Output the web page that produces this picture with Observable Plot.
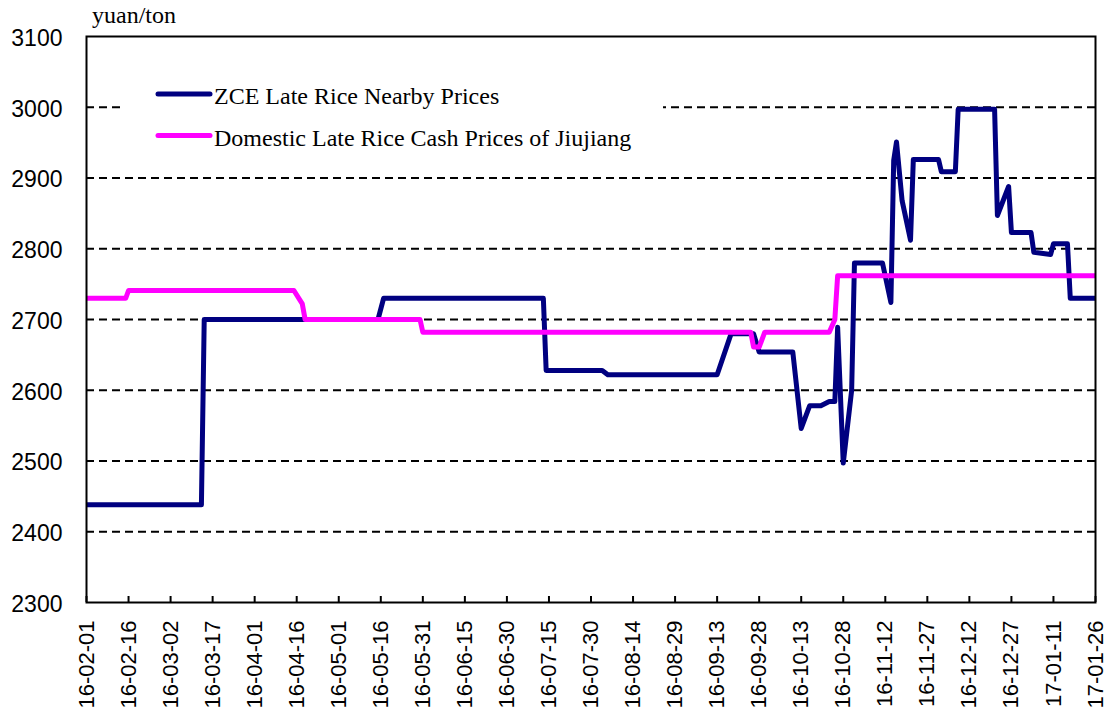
<!DOCTYPE html>
<html><head><meta charset="utf-8">
<script src="https://cdn.jsdelivr.net/npm/d3@7"></script>
<script src="https://cdn.jsdelivr.net/npm/@observablehq/plot@0.6"></script>
<style>
body{margin:0;background:#fff}
#wrap{position:relative;width:1115px;height:718px}
#overlay{position:absolute;left:0;top:0;pointer-events:none}
</style></head>
<body><div id="wrap"></div>
<script>
// ZCE Late Rice Nearby Prices (yuan/ton)
const zceDates = ["2016-02-01","2016-03-13","2016-03-14","2016-05-15","2016-05-17","2016-07-13","2016-07-14","2016-08-03","2016-08-05","2016-09-13","2016-09-18","2016-09-26","2016-09-28","2016-10-10","2016-10-13","2016-10-16","2016-10-20","2016-10-23","2016-10-25","2016-10-26","2016-10-28","2016-10-31","2016-11-01","2016-11-11","2016-11-14","2016-11-15","2016-11-16","2016-11-18","2016-11-21","2016-11-22","2016-12-01","2016-12-02","2016-12-07","2016-12-08","2016-12-21","2016-12-22","2016-12-26","2016-12-27","2017-01-03","2017-01-04","2017-01-10","2017-01-11","2017-01-16","2017-01-17","2017-01-26"];
const zceValues = [2438,2438,2700,2700,2730,2730,2628,2628,2622,2622,2680,2680,2654,2654,2546,2578,2578,2584,2584,2689,2497,2600,2780,2780,2724,2925,2951,2868,2812,2926,2926,2909,2909,2997,2997,2847,2888,2823,2823,2795,2792,2807,2807,2730,2730];
// Domestic Late Rice Cash Prices of Jiujiang (yuan/ton)
const cashDates = ["2016-02-01","2016-02-15","2016-02-16","2016-04-15","2016-04-18","2016-04-19","2016-05-30","2016-05-31","2016-09-25","2016-09-26","2016-09-28","2016-09-30","2016-10-23","2016-10-25","2016-10-26","2017-01-26"];
const cashValues = [2730,2730,2741,2741,2722,2700,2700,2682,2682,2661,2661,2682,2682,2700,2762,2762];
const seriesNames = ["ZCE Late Rice Nearby Prices","Domestic Late Rice Cash Prices of Jiujiang"];
const seriesColors = ["#000080","#ff00ff"];
const xTickDates = ["2016-02-01","2016-02-16","2016-03-02","2016-03-17","2016-04-01","2016-04-16","2016-05-01","2016-05-16","2016-05-31","2016-06-15","2016-06-30","2016-07-15","2016-07-30","2016-08-14","2016-08-29","2016-09-13","2016-09-28","2016-10-13","2016-10-28","2016-11-12","2016-11-27","2016-12-12","2016-12-27","2017-01-11","2017-01-26"];
const yTicks = [2300,2400,2500,2600,2700,2800,2900,3000,3100];
const gridValues = [2400,2500,2600,2700,2800,2900,3000];
const unitLabel = "yuan/ton";

const zce = zceDates.map((d,i)=>({date:new Date(d),value:zceValues[i]}));
const cash = cashDates.map((d,i)=>({date:new Date(d),value:cashValues[i]}));
const xTicks = xTickDates.map(d=>new Date(d));

const chart = Plot.plot({
  width:1115, height:718,
  marginLeft:86, marginRight:20, marginTop:36, marginBottom:116,
  style:{fontFamily:"'Liberation Sans', Arial, sans-serif", background:"#fff", color:"#000"},
  x:{type:"utc", domain:[xTicks[0], xTicks[xTicks.length-1]], label:null},
  y:{domain:[2300,3100], label:null},
  marks:[
    Plot.ruleY(gridValues,{stroke:"#000",strokeWidth:2,strokeDasharray:"8,5"}),
    Plot.line(zce,{x:"date",y:"value",stroke:seriesColors[0],strokeWidth:5,strokeLinejoin:"round",clip:true}),
    Plot.line(cash,{x:"date",y:"value",stroke:seriesColors[1],strokeWidth:5,strokeLinejoin:"round",clip:true}),
    Plot.frame({stroke:"#000",strokeWidth:2}),
    Plot.ruleX(xTicks,{y1:2300,y2:2300,insetTop:-6,stroke:"#000",strokeWidth:2}),
    Plot.axisX(xTicks,{tickSize:0,tickPadding:18,tickRotate:-90,tickFormat:d3.utcFormat("%y-%m-%d"),fontSize:22,label:null}),
    Plot.axisY(yTicks,{tickSize:0,tickPadding:24,fontSize:23,dy:2,tickFormat:d=>String(d),label:null})
  ]
});
const wrap = document.getElementById("wrap");
wrap.appendChild(chart);

// legend + unit overlay
const ns="http://www.w3.org/2000/svg";
const ov=document.createElementNS(ns,"svg");
ov.setAttribute("id","overlay");ov.setAttribute("width",1115);ov.setAttribute("height",718);
const mk=(tag,attrs,text)=>{const e=document.createElementNS(ns,tag);for(const k in attrs)e.setAttribute(k,attrs[k]);if(text!=null)e.textContent=text;ov.appendChild(e);return e;};
mk("rect",{x:121,y:66,width:542,height:92,fill:"#fff"});
mk("text",{x:92,y:23,"font-family":"'Liberation Serif','Times New Roman',serif","font-size":24,fill:"#000"},unitLabel);
const legY=[94,135.5];
seriesNames.forEach((n,i)=>{
  mk("line",{x1:158,x2:210,y1:legY[i],y2:legY[i],stroke:seriesColors[i],"stroke-width":5,"stroke-linecap":"round"});
  mk("text",{x:214,y:legY[i]+10.2,"font-family":"'Liberation Serif','Times New Roman',serif","font-size":24,fill:"#000"},n);
});
wrap.appendChild(ov);
</script></body></html>
